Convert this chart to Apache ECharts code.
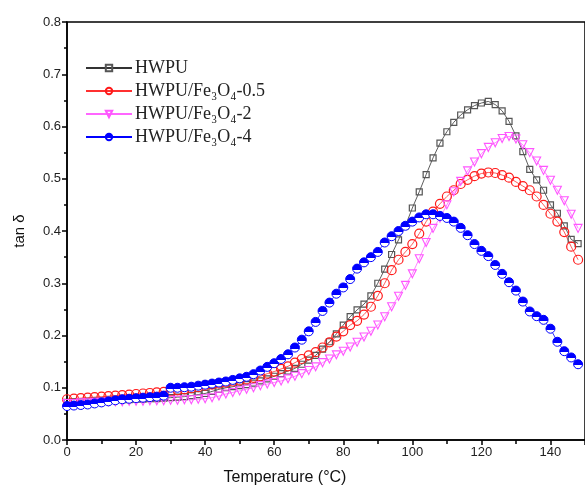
<!DOCTYPE html>
<html>
<head>
<meta charset="utf-8">
<script src="https://cdn.jsdelivr.net/npm/echarts@6/dist/echarts.min.js"></script>
<style>html,body{margin:0;padding:0;background:#fff;}#c{width:585px;height:491px;}</style>
</head>
<body>
<div id="c"></div>
<script>
const temperature = [0,2,4,6,8,10,12,14,16,18,20,22,24,26,28,30,32,34,36,38,40,42,44,46,48,50,52,54,56,58,60,62,64,66,68,70,72,74,76,78,80,82,84,86,88,90,92,94,96,98,100,102,104,106,108,110,112,114,116,118,120,122,124,126,128,130,132,134,136,138,140,142,144,146,148];

const hwpu = [.072,.073,.073,.074,.075,.075,.076,.076,.077,.077,.078,.078,.079,.079,.080,.081,.082,.083,.085,.087,.089,.093,.097,.100,.102,.104,.106,.109,.113,.117,.122,.127,.132,.137,.145,.153,.162,.174,.188,.203,.220,.236,.249,.260,.276,.300,.327,.355,.383,.410,.444,.475,.508,.540,.568,.590,.608,.622,.632,.640,.645,.648,.642,.630,.610,.582,.552,.518,.498,.478,.450,.434,.410,.384,.376];

const fe05 = [.078,.079,.080,.081,.082,.083,.084,.085,.086,.087,.088,.089,.090,.091,.092,.093,.095,.097,.099,.101,.104,.106,.108,.110,.112,.114,.116,.119,.122,.127,.131,.136,.141,.148,.155,.162,.168,.177,.187,.198,.208,.220,.228,.240,.255,.276,.300,.325,.345,.360,.375,.395,.418,.437,.452,.466,.478,.490,.498,.505,.510,.512,.511,.507,.502,.494,.486,.478,.466,.450,.433,.418,.398,.370,.345];

const fe2 = [.070,.070,.071,.071,.072,.072,.073,.073,.073,.074,.074,.074,.075,.075,.075,.076,.076,.077,.077,.078,.079,.081,.084,.088,.091,.094,.097,.100,.104,.107,.110,.113,.117,.122,.127,.133,.140,.148,.155,.163,.170,.178,.187,.197,.208,.220,.236,.255,.275,.296,.318,.347,.378,.405,.425,.450,.475,.495,.515,.532,.548,.560,.569,.577,.581,.576,.565,.550,.534,.516,.497,.478,.458,.432,.405];

const fe4 = [.065,.066,.067,.068,.070,.072,.074,.076,.078,.079,.080,.081,.082,.083,.085,.100,.100,.101,.102,.104,.106,.108,.110,.112,.115,.118,.121,.126,.133,.140,.147,.155,.164,.177,.192,.208,.226,.247,.263,.280,.292,.308,.328,.340,.350,.360,.378,.390,.400,.410,.418,.426,.432,.432,.429,.425,.418,.406,.392,.375,.362,.352,.335,.318,.302,.286,.265,.246,.237,.230,.213,.188,.170,.158,.145];

const seriesNames = ['HWPU','HWPU/Fe\u2083O\u2084-0.5','HWPU/Fe\u2083O\u2084-2','HWPU/Fe\u2083O\u2084-4'];
const yTicks = ['0.0','0.1','0.2','0.3','0.4','0.5','0.6','0.7','0.8'];

function pairs(vals){ return temperature.map((t,i)=>[t, vals[i]]); }

const chart = echarts.init(document.getElementById('c'), null, {renderer:'canvas'});
const axisFont = {fontFamily:'Liberation Sans, Arial, sans-serif', fontSize:13, color:'#222'};
chart.setOption({
  animation:false,
  backgroundColor:'#fff',
  grid:{left:67, top:22, bottom:50, right:-4, show:true, borderColor:'#000', borderWidth:1.5},
  legend:{
    orient:'vertical', left:80, top:54, itemGap:5, itemWidth:46, itemHeight:8,
    textStyle:{fontFamily:'Liberation Serif, Times New Roman, serif', fontSize:18, color:'#222', padding:[0,0,0,-2]},
    data:seriesNames
  },
  xAxis:{
    type:'value', min:0, max:150, interval:20,
    name:'Temperature (\u00b0C)', nameLocation:'middle', nameGap:30,
    nameTextStyle:{fontFamily:'Liberation Sans, Arial, sans-serif', fontSize:16, color:'#111', padding:[0,82,0,0]},
    axisLine:{lineStyle:{color:'#000', width:1.5}},
    axisTick:{length:5, inside:false, lineStyle:{color:'#000', width:1.5}},
    minorTick:{show:true, splitNumber:2, length:4, lineStyle:{color:'#000', width:1.5}},
    splitLine:{show:false},
    axisLabel:Object.assign({margin:6, showMaxLabel:false}, axisFont)
  },
  yAxis:{
    type:'value', min:0, max:0.8, interval:0.1,
    name:'tan \u03b4', nameLocation:'middle', nameGap:40,
    nameTextStyle:{fontFamily:'Liberation Sans, Arial, sans-serif', fontSize:15, color:'#111'},
    axisLine:{show:true, lineStyle:{color:'#000', width:1.5}},
    axisTick:{show:true, length:5, lineStyle:{color:'#000', width:1.5}},
    minorTick:{show:true, splitNumber:2, length:3, lineStyle:{color:'#000', width:1.5}},
    splitLine:{show:false},
    axisLabel:Object.assign({margin:6, formatter:(v)=>yTicks[Math.round(v*10)]}, axisFont)
  },
  series:[
    {name:seriesNames[0], type:'line', data:pairs(hwpu), symbol:'rect', symbolSize:6,
     lineStyle:{color:'#333', width:0.8},
     itemStyle:{color:'rgba(255,255,255,0)', borderColor:'#555', borderWidth:1.2}},
    {name:seriesNames[1], type:'line', data:pairs(fe05), symbol:'circle', symbolSize:9,
     lineStyle:{color:'#ff3030', width:0.8},
     itemStyle:{color:'rgba(255,255,255,0)', borderColor:'#ff1a1a', borderWidth:1.2}},
    {name:seriesNames[2], type:'line', data:pairs(fe2), symbol:'triangle', symbolRotate:180, symbolSize:8,
     lineStyle:{color:'#ff66ff', width:0.8},
     itemStyle:{color:'rgba(255,255,255,0)', borderColor:'#ff55ff', borderWidth:1.1}},
    {name:seriesNames[3], type:'line', data:pairs(fe4), symbol:'circle', symbolSize:9,
     lineStyle:{color:'#0000ff', width:0.8},
     itemStyle:{color:{type:'linear', x:0, y:0, x2:0, y2:1, colorStops:[
        {offset:0, color:'#0000ff'},{offset:0.6, color:'#0000ff'},{offset:0.6, color:'#ffffff'},{offset:1, color:'#ffffff'}]},
       borderColor:'#0000ff', borderWidth:1}}
  ]
});
</script>
</body>
</html>
